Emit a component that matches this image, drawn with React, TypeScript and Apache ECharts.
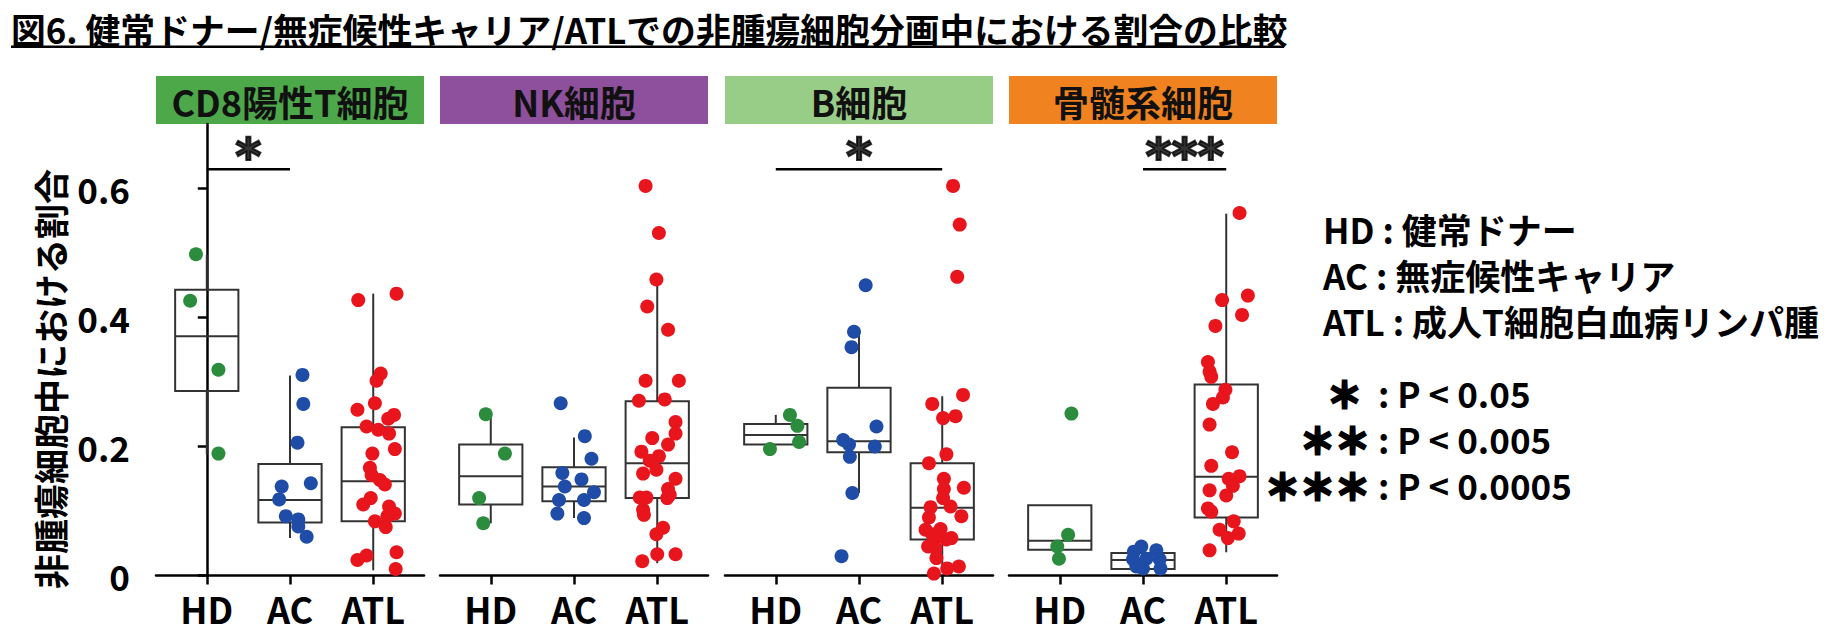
import React, { useEffect, useRef } from "react";
import * as echarts from "echarts";

const FONT = '"Noto Sans CJK JP", "Noto Sans", sans-serif';
const STAR_FONT = '"DejaVu Sans", sans-serif';

const titleText = "図6. 健常ドナー/無症候性キャリア/ATLでの非腫瘍細胞分画中における割合の比較";
const yAxisName = "非腫瘍細胞中における割合";
const groups = ["HD", "AC", "ATL"];
const panelNames = ["CD8陽性T細胞", "NK細胞", "B細胞", "骨髄系細胞"];
const panelColors = ["#4DA84A", "#8E4F9D", "#98CD88", "#F0821F"];
const groupColors = ["#2A8C3C", "#1F4CA6", "#E8151D"];
const yTicks = [0, 0.2, 0.4, 0.6];
const legendLines = ["HD : 健常ドナー", "AC : 無症候性キャリア", "ATL : 成人T細胞白血病リンパ腫"];
const pStars = ["＊\u00a0", "＊＊", "＊＊＊"];
const pTexts = [": P < 0.05", ": P < 0.005", ": P < 0.0005"];

// points: [jitter offset within group, value]
const cd8HD = [[-0.13, 0.498], [-0.2, 0.426], [0.14, 0.319], [0.14, 0.189]];
const cd8AC = [[0.15, 0.311], [0.16, 0.266], [0.09, 0.206], [0.25, 0.143], [-0.1, 0.138], [-0.13, 0.118], [-0.05, 0.092], [0.1, 0.087], [0.1, 0.076], [0.2, 0.06]];
const cd8ATL = [[-0.18, 0.427], [0.28, 0.437], [0.09, 0.313], [0.04, 0.302], [0.02, 0.267], [-0.19, 0.257], [0.25, 0.249], [0.18, 0.243], [-0.08, 0.231], [0.06, 0.226], [0.19, 0.22], [0.26, 0.196], [-0.01, 0.189], [-0.04, 0.167], [-0.02, 0.156], [0.08, 0.148], [0.14, 0.141], [-0.03, 0.12], [-0.12, 0.11], [0.19, 0.107], [0.26, 0.096], [0.17, 0.092], [0.02, 0.084], [0.15, 0.075], [0.28, 0.036], [-0.08, 0.031], [-0.19, 0.024], [0.27, 0.01]];
const nkHD = [[-0.06, 0.25], [0.17, 0.189], [-0.14, 0.12], [-0.09, 0.081]];
const nkAC = [[-0.16, 0.267], [0.13, 0.216], [0.21, 0.181], [-0.14, 0.159], [0.09, 0.149], [-0.11, 0.138], [0.24, 0.129], [-0.18, 0.117], [0.12, 0.117], [-0.2, 0.096], [0.12, 0.089]];
const nkATL = [[-0.14, 0.604], [0.02, 0.531], [-0.01, 0.459], [-0.12, 0.417], [0.13, 0.381], [-0.14, 0.302], [0.26, 0.302], [-0.22, 0.271], [0.09, 0.273], [0.22, 0.238], [0.22, 0.22], [-0.06, 0.213], [0.13, 0.203], [-0.19, 0.192], [0.02, 0.185], [-0.09, 0.178], [-0.01, 0.164], [-0.17, 0.158], [0.22, 0.15], [0.13, 0.134], [0.15, 0.125], [-0.21, 0.121], [-0.13, 0.121], [0.12, 0.12], [-0.17, 0.102], [-0.16, 0.094], [0.07, 0.074], [-0.01, 0.064], [0.0, 0.033], [0.22, 0.033], [-0.18, 0.022]];
const bHD = [[0.17, 0.249], [0.26, 0.232], [0.28, 0.207], [-0.07, 0.196]];
const bAC = [[0.08, 0.45], [-0.06, 0.378], [-0.09, 0.354], [0.21, 0.231], [-0.19, 0.21], [-0.12, 0.203], [0.19, 0.2], [-0.11, 0.184], [-0.08, 0.128], [-0.21, 0.03]];
const bATL = [[0.13, 0.604], [0.21, 0.544], [0.18, 0.463], [0.25, 0.28], [-0.12, 0.266], [0.01, 0.244], [0.16, 0.247], [0.05, 0.188], [-0.16, 0.174], [0.02, 0.15], [0.02, 0.134], [0.26, 0.136], [0.01, 0.12], [0.1, 0.107], [-0.14, 0.106], [0.23, 0.092], [-0.16, 0.09], [-0.2, 0.071], [-0.02, 0.072], [-0.12, 0.064], [0.11, 0.058], [0.05, 0.056], [-0.08, 0.058], [-0.17, 0.045], [-0.08, 0.042], [-0.07, 0.027], [0.06, 0.011], [0.2, 0.014], [-0.1, 0.003]];
const myeHD = [[0.14, 0.251], [0.1, 0.063], [-0.03, 0.045], [-0.01, 0.026]];
const myeAC = [[-0.02, 0.045], [-0.11, 0.037], [0.16, 0.039], [0.04, 0.026], [-0.08, 0.014], [0.0, 0.011], [0.21, 0.011], [0.2, 0.025], [-0.12, 0.025]];
const myeATL = [[0.16, 0.562], [0.26, 0.434], [-0.05, 0.427], [0.19, 0.404], [-0.13, 0.387], [-0.22, 0.331], [-0.2, 0.316], [-0.18, 0.308], [-0.01, 0.288], [-0.04, 0.276], [-0.16, 0.266], [-0.2, 0.234], [0.07, 0.191], [-0.18, 0.17], [0.16, 0.154], [0.03, 0.15], [0.08, 0.139], [-0.2, 0.132], [0.0, 0.124], [-0.22, 0.104], [-0.18, 0.099], [0.09, 0.084], [-0.08, 0.071], [0.15, 0.065], [0.02, 0.058], [-0.2, 0.039]];

// box stats per group: [whisker low, Q1, median, Q3, whisker high]
const cd8Box = [[0.188, 0.286, 0.371, 0.443, 0.497], [0.058, 0.082, 0.117, 0.173, 0.31], [0.008, 0.084, 0.146, 0.23, 0.437]];
const nkBox = [[0.081, 0.11, 0.154, 0.203, 0.25], [0.089, 0.115, 0.138, 0.168, 0.214], [0.019, 0.12, 0.174, 0.27, 0.455]];
const bBox = [[0.203, 0.203, 0.218, 0.235, 0.249], [0.128, 0.191, 0.208, 0.291, 0.378], [0.005, 0.056, 0.105, 0.174, 0.278]];
const myeBox = [[0.04, 0.04, 0.054, 0.109, 0.109], [0.01, 0.01, 0.024, 0.035, 0.035], [0.036, 0.09, 0.153, 0.296, 0.561]];

// significance bars
const sigPanel = [0, 2, 3];
const sigFrom = [0, 0, 1];
const sigTo = [1, 2, 2];
const sigLevel = 0.63;
const sigLabel = ["*", "*", "***"];

const panelPoints = [
  [cd8HD, cd8AC, cd8ATL],
  [nkHD, nkAC, nkATL],
  [bHD, bAC, bATL],
  [myeHD, myeAC, myeATL],
];
const panelBoxes = [cd8Box, nkBox, bBox, myeBox];

const PANEL_LEFT = [156, 440, 725, 1009];
const PANEL_W = 268;
const HEADER_TOP = 76;
const GRID_TOP = 124;
const GRID_H = 451.5;
const HALF_BOX = 0.38;

function buildOption() {
  const grid: any[] = [];
  const xAxis: any[] = [];
  const yAxis: any[] = [];
  const series: any[] = [];
  const graphic: any[] = [];

  PANEL_LEFT.forEach((left, i) => {
    grid.push({ left, top: GRID_TOP, width: PANEL_W, height: GRID_H });
    xAxis.push({
      type: "value",
      gridIndex: i,
      min: -0.61,
      max: 2.61,
      splitLine: { show: false },
      axisLine: { show: true, onZero: false, lineStyle: { color: "#000", width: 2.5 } },
      axisTick: { show: true, customValues: [0, 1, 2], length: 9, inside: false, lineStyle: { color: "#000", width: 2.5 } },
      axisLabel: {
        customValues: [0, 1, 2],
        formatter: (v: number) => groups[Math.round(v)],
        fontSize: 36,
        fontWeight: "bold",
        fontFamily: FONT,
        color: "#000",
        margin: 14,
      },
    });
    yAxis.push({
      type: "value",
      gridIndex: i,
      min: 0,
      max: 0.7,
      show: i === 0,
      splitLine: { show: false },
      axisLine: { show: i === 0, lineStyle: { color: "#000", width: 2.5 } },
      axisTick: { show: i === 0, customValues: yTicks, length: 9, lineStyle: { color: "#000", width: 2.5 } },
      axisLabel: {
        show: i === 0,
        customValues: yTicks,
        formatter: (v: number) => (v === 0 ? "0" : v.toFixed(1)),
        fontSize: 35,
        fontWeight: "bold",
        fontFamily: FONT,
        color: "#000",
        margin: 26,
      },
    });

    // boxes
    series.push({
      type: "custom",
      xAxisIndex: i,
      yAxisIndex: i,
      z: 2,
      data: panelBoxes[i].map((b, g) => [g, ...b]),
      renderItem: (_params: any, api: any) => {
        const x = api.value(0);
        const lo = api.value(1), q1 = api.value(2), med = api.value(3), q3 = api.value(4), hi = api.value(5);
        const tl = api.coord([x - HALF_BOX, q3]);
        const br = api.coord([x + HALF_BOX, q1]);
        const pHi = api.coord([x, hi]);
        const pQ3 = api.coord([x, q3]);
        const pQ1 = api.coord([x, q1]);
        const pLo = api.coord([x, lo]);
        const mL = api.coord([x - HALF_BOX, med]);
        const mR = api.coord([x + HALF_BOX, med]);
        const st = { stroke: "#333", lineWidth: 2, fill: null };
        return {
          type: "group",
          children: [
            { type: "line", shape: { x1: pHi[0], y1: pHi[1], x2: pQ3[0], y2: pQ3[1] }, style: st },
            { type: "line", shape: { x1: pQ1[0], y1: pQ1[1], x2: pLo[0], y2: pLo[1] }, style: st },
            { type: "rect", shape: { x: tl[0], y: tl[1], width: br[0] - tl[0], height: br[1] - tl[1] }, style: st },
            { type: "line", shape: { x1: mL[0], y1: mL[1], x2: mR[0], y2: mR[1] }, style: st },
          ],
        };
      },
    });

    // points
    panelPoints[i].forEach((pts, g) => {
      series.push({
        type: "scatter",
        xAxisIndex: i,
        yAxisIndex: i,
        z: 3,
        symbol: "circle",
        symbolSize: 14,
        itemStyle: { color: groupColors[g], opacity: 1 },
        data: pts.map((p) => [g + p[0], p[1]]),
      });
    });

    // header
    graphic.push({
      type: "rect",
      left,
      top: HEADER_TOP,
      shape: { width: PANEL_W, height: GRID_TOP - HEADER_TOP },
      style: { fill: panelColors[i] },
    });
    graphic.push({
      type: "text",
      x: left + PANEL_W / 2,
      y: 101,
      style: {
        text: panelNames[i],
        fontSize: 36,
        fontWeight: "bold",
        fontFamily: FONT,
        fill: "#111",
        align: "center",
        verticalAlign: "middle",
      },
    });
  });

  // significance bars
  sigPanel.forEach((p, k) => {
    series.push({
      type: "line",
      xAxisIndex: p,
      yAxisIndex: p,
      symbol: "none",
      z: 4,
      lineStyle: { color: "#000", width: 2.5 },
      data: [[sigFrom[k], sigLevel], [sigTo[k], sigLevel]],
    });
    series.push({
      type: "scatter",
      xAxisIndex: p,
      yAxisIndex: p,
      symbolSize: 0,
      z: 4,
      data: [[(sigFrom[k] + sigTo[k]) / 2, sigLevel]],
      label: {
        show: true,
        position: "inside",
        offset: [0, -12],
        formatter: sigLabel[k],
        fontSize: 50,
        fontWeight: "bold",
        fontFamily: STAR_FONT,
        color: "#000",
        textBorderColor: "#000",
        textBorderWidth: 2,
      },
    });
  });

  // title
  graphic.push({
    type: "text",
    x: 11,
    y: 29,
    style: { text: titleText, fontSize: 34.8, fontWeight: "bold", fontFamily: FONT, fill: "#000", align: "left", verticalAlign: "middle" },
  });
  graphic.push({ type: "rect", left: 11, top: 45.5, shape: { width: 1273, height: 2.5 }, style: { fill: "#000" } });

  // y axis name
  graphic.push({
    type: "text",
    x: 49,
    y: 379,
    rotation: Math.PI / 2,
    style: { text: yAxisName, fontSize: 35, fontWeight: "bold", fontFamily: FONT, fill: "#000", align: "center", verticalAlign: "middle" },
  });

  // legend (group names)
  graphic.push({
    type: "text",
    x: 1323,
    y: 274,
    style: {
      text: legendLines.join("\n"),
      fontSize: 35,
      lineHeight: 46,
      fontWeight: "bold",
      fontFamily: FONT,
      fill: "#000",
      align: "left",
      verticalAlign: "middle",
    },
  });
  // p-value keys
  graphic.push({
    type: "text",
    x: 1370,
    y: 438,
    style: {
      text: pStars.join("\n"),
      fontSize: 35,
      lineHeight: 46,
      fontWeight: "bold",
      fontFamily: FONT,
      fill: "#000",
      stroke: "#000",
      lineWidth: 3,
      align: "right",
      verticalAlign: "middle",
    },
  });
  graphic.push({
    type: "text",
    x: 1378,
    y: 438,
    style: {
      text: pTexts.join("\n"),
      fontSize: 35,
      lineHeight: 46,
      fontWeight: "bold",
      fontFamily: FONT,
      fill: "#000",
      align: "left",
      verticalAlign: "middle",
    },
  });

  return {
    animation: false,
    backgroundColor: "#fff",
    grid,
    xAxis,
    yAxis,
    series,
    graphic,
  };
}

export default function App() {
  const ref = useRef<HTMLDivElement>(null);
  useEffect(() => {
    if (!ref.current) return;
    const chart = echarts.init(ref.current, null, { renderer: "svg" });
    chart.setOption(buildOption() as any);
    return () => chart.dispose();
  }, []);
  return (
    <div
      ref={ref}
      style={{ position: "fixed", left: 0, top: 0, width: 1843, height: 634, background: "#fff" }}
    />
  );
}
